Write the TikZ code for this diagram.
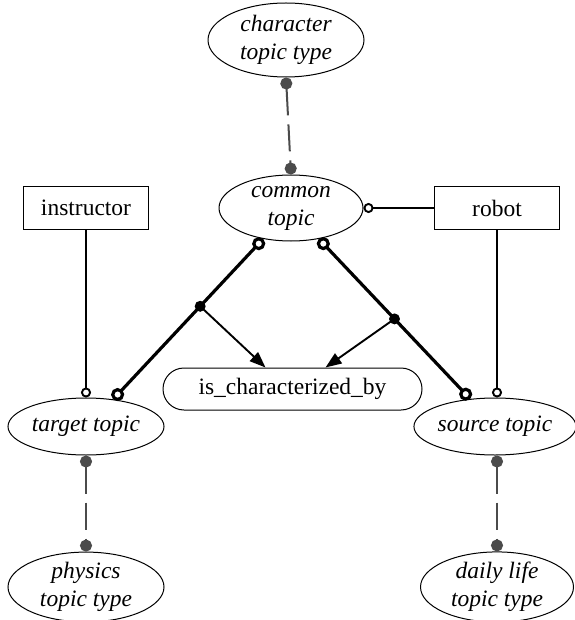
\documentclass[tikz,border=0pt]{standalone}
\usepackage{fontspec}
\setmainfont{Liberation Serif}
\newfontfamily\tmsfont{Liberation Serif}
\usetikzlibrary{shapes.geometric,arrows.meta,calc}
\definecolor{dg}{RGB}{75,75,75}
\begin{document}
\begin{tikzpicture}[x=1pt,y=-1pt,
 every node/.style={font=\tmsfont\fontsize{23.5}{28}\selectfont},
 ell/.style={ellipse, draw, line width=1pt, inner sep=0pt, align=center, font=\tmsfont\fontsize{23.5}{28}\selectfont\itshape},
 box/.style={rectangle, draw, line width=1pt, minimum width=125pt, minimum height=42pt, inner sep=0pt},
 thinconn/.style={line width=1.9pt, -{Circle[open,length=10pt,width=10pt]}},
 boldconn/.style={line width=3.2pt, {Circle[open,length=13pt,width=13pt]}-{Circle[open,length=13pt,width=13pt]}},
 typ/.style={dg, line width=2pt, dash pattern=on 27pt off 9pt, {Circle[length=12pt,width=12pt]}-{Circle[length=12pt,width=12pt]}},
 arr/.style={line width=1.9pt, -{Triangle[length=16pt,width=12pt]}}
]
\useasboundingbox (0,0) rectangle (574,620);

\node[ell, minimum width=156pt, minimum height=74pt] (char) at (286,40) {character\\topic type};
\node[ell, minimum width=144pt, minimum height=66pt] (common) at (291,208) {common\\topic};
\node[box] (instr) at (86,208) {instructor};
\node[box] (robot) at (497,208) {robot};
\node[draw, rounded corners=21pt, line width=1pt, minimum width=259pt, minimum height=42pt, inner sep=0pt] (isch) at (292.5,389) {is\_characterized\_by};
\node[ell, minimum width=156pt, minimum height=57pt] (target) at (86,426.5) {target topic};
\node[ell, minimum width=160pt, minimum height=57pt] (source) at (495,426.5) {source topic};
\node[ell, minimum width=156pt, minimum height=66pt] (phys) at (86,587) {physics\\topic type};
\node[ell, minimum width=153pt, minimum height=66pt] (daily) at (497,587) {daily life\\topic type};

\draw[typ] (char.south) -- (common.north);
\draw[typ] (target.south) -- (phys.north);
\draw[typ] (daily.north |- source.south) -- (daily.north);

\draw[thinconn] (robot.west) -- (common.east);
\draw[thinconn] (instr.south) -- (target.north);
\draw[thinconn] (robot.south) -- (robot.south |- source.north);

\draw[boldconn] (common.-132) -- coordinate[pos=0.42] (lm) (target.45);
\draw[boldconn] (common.-48) -- coordinate[pos=0.5] (rm) (source.132);

\draw[arr] (lm) -- ($(isch.north)+(-27,0)$);
\draw[arr] (rm) -- ($(isch.north)+(33,0)$);
\fill (lm) circle (5.5pt);
\fill (rm) circle (5.5pt);
\end{tikzpicture}
\end{document}
